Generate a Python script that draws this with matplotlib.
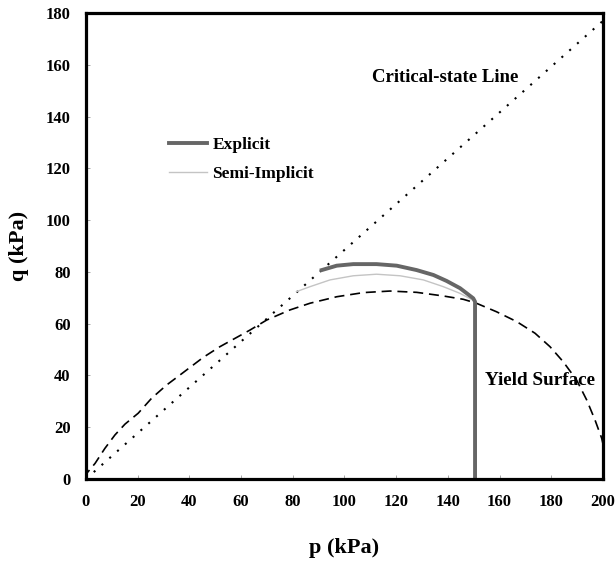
import matplotlib.pyplot as plt

plt.rcParams['font.family'] = ['Liberation Serif', 'DejaVu Serif']
plt.rcParams['font.weight'] = 'bold'

# critical-state line
csl_p = [0, 200]
csl_q = [0, 177]

# yield surface (dashed)
ys_p = [0, 0.3, 3.5, 7.3, 11.2, 15.1, 20.2, 25.4, 31.2, 36.4, 45.4, 51.8, 57.6, 63.4,
        69.9, 78.9, 86.7, 97.0, 107.3, 117.6, 127.9, 138.2, 146.0, 151.0, 158.8, 166.6,
        173.7, 179.5, 184.6, 189.8, 193.7, 196.9, 199.5, 200.0]
ys_q = [0, 2.2, 6.0, 11.8, 17.0, 21.2, 25.4, 31.2, 36.3, 40.2, 47.0, 51.1, 54.3, 57.5,
        61.4, 65.3, 67.9, 70.4, 72.0, 72.6, 72.1, 70.7, 69.4, 67.9, 64.6, 60.8,
        56.3, 51.1, 45.3, 38.2, 30.5, 22.8, 15.7, 13.5]

# explicit stress path
exp_p = [150.5, 150.5, 149.8, 144.7, 139.5, 134.4, 127.9, 120.2, 112.4, 103.4, 97.0, 91.2]
exp_q = [0, 68.5, 69.8, 73.7, 76.5, 78.8, 80.7, 82.4, 83.0, 83.0, 82.4, 80.7]

# semi-implicit stress path
semi_p = [150.5, 150.5, 149.8, 144.7, 138.2, 130.5, 121.5, 112.4, 103.4, 94.4, 86.7, 81.5]
semi_q = [0, 68.5, 69.0, 71.7, 74.3, 76.9, 78.5, 79.1, 78.5, 76.9, 74.3, 72.4]

fig = plt.figure(figsize=(6.15, 5.61), dpi=100)
ax = fig.add_axes([0.1398, 0.1462, 0.8407, 0.8306])

ax.plot(csl_p, csl_q, color='black', linestyle=(0, (1, 4)), linewidth=1.5)
ax.plot(ys_p, ys_q, color='black', linestyle=(0, (6, 3.5)), linewidth=1.2)
ax.plot(semi_p, semi_q, color='#c4c4c4', linewidth=1.0, label='Semi-Implicit')
ax.plot(exp_p, exp_q, color='#666666', linewidth=2.8, label='Explicit')

ax.text(110.5, 155, 'Critical-state Line', fontsize=13.5, fontweight='bold', va='center')
ax.text(154.5, 38, 'Yield Surface', fontsize=13.8, fontweight='bold', va='center')

handles, labels = ax.get_legend_handles_labels()
ax.legend(handles[::-1], labels[::-1], loc='upper left', bbox_to_anchor=(0.13, 0.768),
          frameon=False, handlelength=2.2, handletextpad=0.3, labelspacing=0.75,
          prop={'weight': 'bold', 'size': 12.5})

ax.set_xlim(0, 200)
ax.set_ylim(0, 180)
ax.set_xticks(range(0, 201, 20))
ax.set_yticks(range(0, 181, 20))
ax.tick_params(direction='in', length=3, width=0.6, color='#999999', labelsize=12, pad=11)
ax.tick_params(top=False, right=False)
for lab in ax.get_xticklabels() + ax.get_yticklabels():
    lab.set_fontweight('bold')
for sp in ax.spines.values():
    sp.set_linewidth(2.3)

ax.set_xlabel('p (kPa)', fontsize=16, fontweight='bold', labelpad=20)
ax.set_ylabel('q (kPa)', fontsize=16, fontweight='bold', labelpad=12)

fig.savefig('out.png', dpi=100)
